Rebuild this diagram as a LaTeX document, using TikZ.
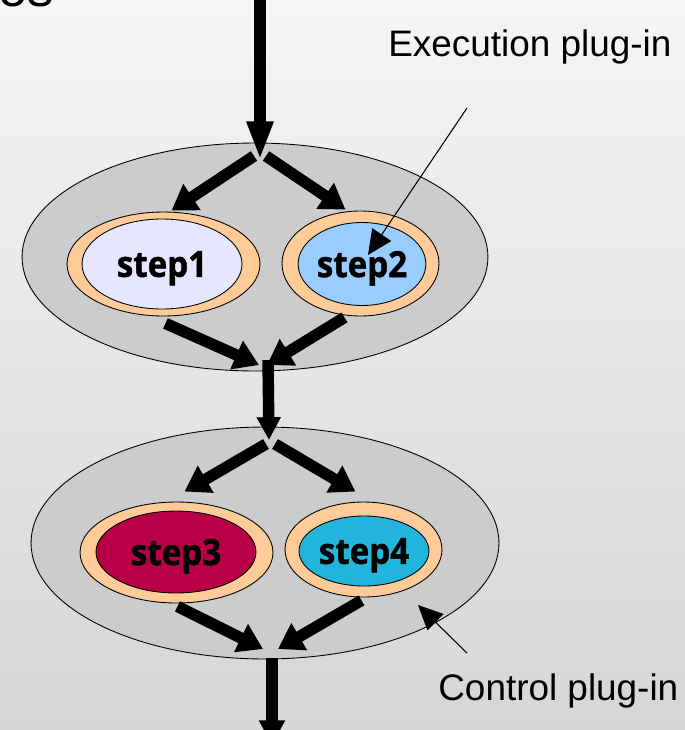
\documentclass[tikz,border=0pt]{standalone}
\usepackage{fontspec}
\setmainfont{Liberation Sans}
\newfontfamily\stepfont[FakeStretch=0.92,FakeBold=1.2]{Open Sans}
\usetikzlibrary{shapes.geometric,arrows.meta}
\definecolor{bgtop}{RGB}{245,245,245}
\definecolor{bgbot}{RGB}{214,214,214}
\definecolor{plugray}{RGB}{204,204,204}
\definecolor{ringpeach}{RGB}{255,204,153}
\definecolor{stepone}{RGB}{230,230,255}
\definecolor{steptwo}{RGB}{153,204,255}
\definecolor{stepthree}{RGB}{184,0,72}
\definecolor{stepfour}{RGB}{34,182,220}
\begin{document}
\begin{tikzpicture}[x=0.02cm, y=-0.02cm,
  blob/.style={ellipse, draw, line width=0.5pt, inner sep=0pt},
  stepname/.style={blob, text depth=0pt, font=\stepfont\bfseries\fontsize{20.5}{24}\selectfont},
  flow/.style={line width=6.5pt, -{Triangle[length=14pt,width=17pt]}},
  pointer/.style={line width=0.6pt, -{Triangle[length=14pt,width=13pt]}},
  note/.style={anchor=base west, inner sep=0pt, font=\fontsize{21}{25}\selectfont}]
% background
\fill[top color=bgtop, bottom color=bgbot] (0,0) rectangle (685,730);
\useasboundingbox (0,0) rectangle (685,730);
\node[note, font=\fontsize{30}{34}\selectfont] (frag) at (-2,7) {os};
% control plug-ins
\node[blob, fill=plugray, minimum width=9.32cm, minimum height=4.56cm] (ctrlA) at (255,257) {};
\node[blob, fill=plugray, minimum width=9.36cm, minimum height=4.64cm] (ctrlB) at (265,543) {};
% execution plug-ins and steps
\node[blob, fill=ringpeach, minimum width=3.86cm, minimum height=2.08cm] (ringA) at (163.5,264) {};
\node[stepname, fill=stepone, minimum width=3.2cm, minimum height=1.8cm] (stepA) at (162,264) {step1};
\node[blob, fill=ringpeach, minimum width=3.14cm, minimum height=2.1cm] (ringB) at (360.5,263.5) {};
\node[stepname, fill=steptwo, minimum width=2.4cm, minimum height=1.66cm] (stepB) at (362,264) {step2};
\node[blob, fill=ringpeach, minimum width=3.86cm, minimum height=2.02cm] (ringC) at (176.5,552.5) {};
\node[stepname, fill=stepthree, minimum width=3.2cm, minimum height=1.64cm] (stepC) at (176,552) {step3};
\node[blob, fill=ringpeach, minimum width=3.14cm, minimum height=1.9cm] (ringD) at (363.5,549.5) {};
\node[stepname, fill=stepfour, minimum width=2.6cm, minimum height=1.4cm] (stepD) at (364,551) {step4};
% flow
\coordinate (entry) at (260,-5);
\coordinate (splitA) at (260,160);
\coordinate (mergeA) at (259,365);
\coordinate (mergeAr) at (267,365);
\coordinate (splitB) at (269,440);
\coordinate (mergeB) at (263,649);
\coordinate (mergeBr) at (278,649);
\coordinate (exit) at (272,745);
\draw[line width=6.5pt, -{Triangle[length=22pt,width=14pt]}] (entry) -- (splitA);
\draw[flow] (254,156) -- ([shift={(8,-1)}]ringA.north);
\draw[flow] (266,156) -- ([shift={(-15,-1)}]ringB.north);
\draw[flow] ([shift={(2,7)}]ringA.south) -- (mergeA);
\draw[flow] ([shift={(-16,1)}]ringB.south) -- (mergeAr);
\draw[line width=6.5pt, -{Triangle[length=13pt,width=13pt]}] (268,360) -- (splitB);
\draw[flow] (266,444) -- ([shift={(8,-10)}]ringC.north);
\draw[flow] (275,444) -- ([shift={(-8,-10)}]ringD.north);
\draw[flow] ([shift={(1,3)}]ringC.south) -- (mergeB);
\draw[flow] ([shift={(-2,3)}]ringD.south) -- (mergeBr);
\draw[line width=6.5pt, -{Triangle[length=14pt,width=14pt]}] (272,658) -- (exit);
% labels
\node[note] (execlabel) at (388,56) {Execution plug-in};
\node[note] (ctrllabel) at (438,700) {Control plug-in};
\coordinate (execfoot) at (467,108);
\coordinate (ctrlfoot) at (467,653);
\draw[pointer] (execfoot) -- (368,255);
\draw[pointer] (ctrlfoot) -- (418,605);
\end{tikzpicture}
\end{document}
